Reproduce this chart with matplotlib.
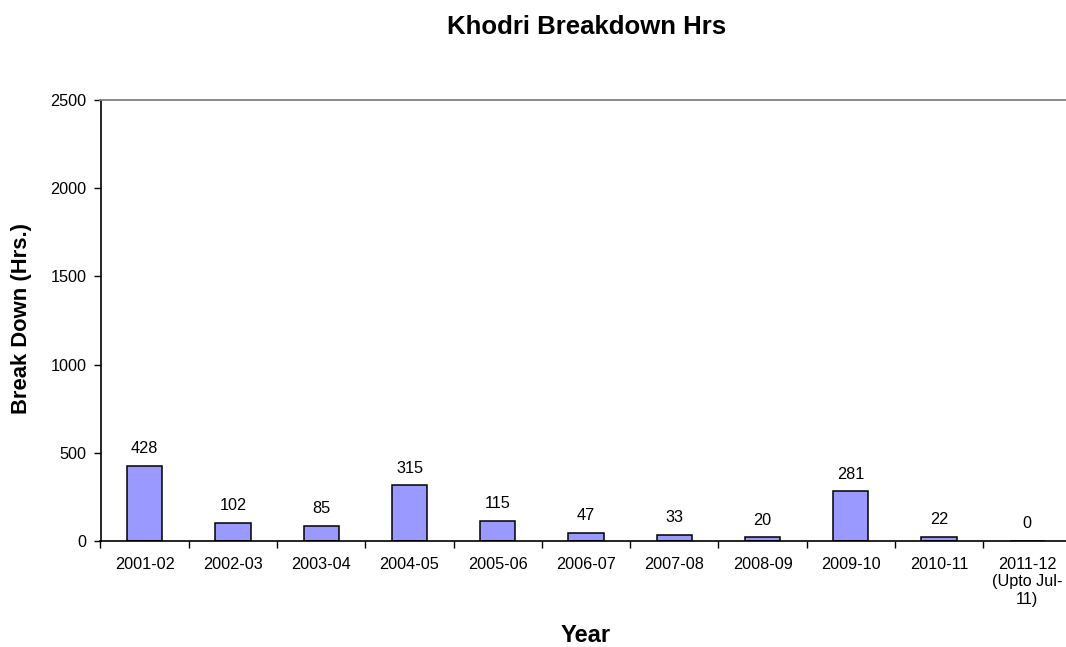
import numpy as np
import matplotlib.pyplot as plt

plt.rcParams['font.family'] = ['Liberation Sans', 'DejaVu Sans']

# Data
years = ["2001-02", "2002-03", "2003-04", "2004-05", "2005-06", "2006-07",
         "2007-08", "2008-09", "2009-10", "2010-11", "2011-12\n(Upto Jul-\n11)"]
hours = [428, 102, 85, 315, 115, 47, 33, 20, 281, 22, 0]

W, H = 1066, 647
fig = plt.figure(figsize=(W / 100, H / 100), dpi=100)
# plot area runs a little past the right edge of the figure, as in the original
ax = fig.add_axes([100.5 / W, 1 - 541 / H, 971 / W, 441 / H])

x = np.arange(len(years))
ax.bar(x, hours, width=0.4, color='#9999FF', edgecolor='black', linewidth=1.1)

for xi, h in zip(x, hours):
    ax.text(xi, h + 55, str(h), ha='center', va='bottom', fontsize=11.7)

ax.set_xlim(-0.5, len(years) - 0.5)
ax.set_ylim(0, 2500)
ax.set_yticks([0, 500, 1000, 1500, 2000, 2500])
ax.tick_params(axis='y', labelsize=11.7, direction='out', length=5, width=1, pad=5)

# category labels centred, tick marks between categories
ax.set_xticks(x)
ax.set_xticklabels(years, fontsize=11.7, linespacing=1.2)
ax.tick_params(axis='x', length=0, pad=11.5)
ax.set_xticks(np.arange(-0.5, len(years), 1), minor=True)
ax.tick_params(axis='x', which='minor', direction='out', length=5, width=1)

ax.spines['right'].set_visible(False)
ax.spines['top'].set_color('#808080')
ax.spines['top'].set_linewidth(1.3)
ax.spines['left'].set_linewidth(1.2)
ax.spines['bottom'].set_linewidth(1.2)

fig.text(586 / W, 1 - 636 / H, "Year", ha='center', va='center',
         fontsize=17, fontweight='bold')
fig.text(22 / W, 1 - 318 / H, "Break Down (Hrs.)", ha='center', va='center',
         rotation=90, fontsize=15.8, fontweight='bold')
fig.text(587 / W, 1 - 27 / H, "Khodri Breakdown Hrs", ha='center', va='center',
         fontsize=18.5, fontweight='bold')

fig.savefig("out.png", dpi=100)
